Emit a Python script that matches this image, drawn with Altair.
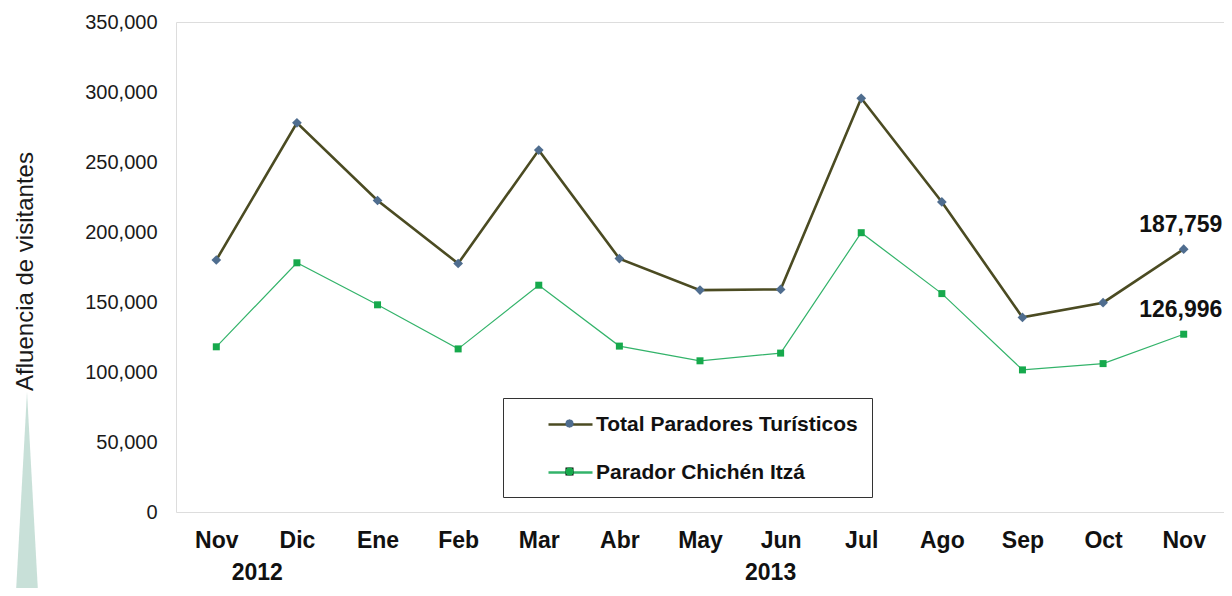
import altair as alt
import pandas as pd

months = ["Nov 2012", "Dic", "Ene", "Feb", "Mar", "Abr", "May", "Jun",
          "Jul", "Ago", "Sep", "Oct", "Nov 2013"]
total = [180000, 278000, 222500, 177500, 258500, 181000, 158500, 159000,
         295500, 221500, 139000, 149500, 187759]
chichen = [118000, 178000, 148000, 116500, 162000, 118500, 108000, 113500,
           199500, 156000, 101500, 106000, 126996]
series_names = ["Total Paradores Turísticos", "Parador Chichén Itzá"]
years = ["2012", "2013"]
year_anchor = ["Nov 2012", "Jun"]
y_ticks = [0, 50000, 100000, 150000, 200000, 250000, 300000, 350000]

rows = []
for m, t, c in zip(months, total, chichen):
    rows.append({"key": m, "value": t, "series": series_names[0], "series_b": series_names[0]})
    rows.append({"key": m, "value": c, "series": series_names[1], "series_b": series_names[1]})
df = pd.DataFrame(rows)

FONT = "Liberation Sans"
W, H = 1048, 490

x_enc = alt.X("key:N", sort=months,
              scale=alt.Scale(type="point", padding=0.5),
              axis=alt.Axis(title=None, labelExpr="slice(datum.value,0,3)", labelAngle=0,
                            labelFont=FONT, labelFontSize=23, labelFontWeight="bold",
                            labelColor="#111111", labelPadding=17, ticks=False,
                            domain=False, grid=False))
y_enc = alt.Y("value:Q",
              scale=alt.Scale(domain=[0, 350000], nice=False),
              axis=alt.Axis(title="Afluencia de visitantes", values=y_ticks, format=",.0f",
                            labelFont=FONT, labelFontSize=20, labelColor="#1a1a1a",
                            labelPadding=19, ticks=False, domain=False, grid=False,
                            titleFont=FONT, titleFontSize=24, titleFontWeight="normal",
                            titleColor="#1a1a1a", titleX=-151, titleY=249, titleAngle=270,
                            titleAlign="center", titleBaseline="middle"))

color_scale = alt.Scale(domain=series_names, range=["#4b4b22", "#33b36a"])
fill_scale = alt.Scale(range=["#4f6d8f", "#16a94c"])
shape_scale = alt.Scale(range=["diamond", "square"])

legend1 = alt.Legend(title=None, orient="none", legendX=327, legendY=376,
                     direction="vertical",
                     symbolType="M-2,0H2", symbolSize=484, symbolStrokeWidth=2.5,
                     padding=14, rowPadding=25, symbolOffset=41, labelOffset=13,
                     labelFont=FONT, labelFontSize=21, labelFontWeight="bold",
                     labelColor="#111111", labelLimit=500,
                     strokeColor="#333333", fillColor="white")
legend2 = alt.Legend(title=None, orient="none", legendX=327, legendY=376,
                     direction="vertical",
                     symbolSize=64, symbolStrokeWidth=0,
                     padding=21.5, rowPadding=40, symbolOffset=41,
                     labelFontSize=1, labelColor="rgba(0,0,0,0)")

base = alt.Chart(df)

line_total = base.transform_filter(alt.datum.series == series_names[0]).mark_line(
    strokeWidth=2.6).encode(x=x_enc, y=y_enc,
                            color=alt.Color("series:N", scale=color_scale, legend=legend1))
line_chichen = base.transform_filter(alt.datum.series == series_names[1]).mark_line(
    strokeWidth=1.2).encode(x=x_enc, y=y_enc,
                            color=alt.Color("series:N", scale=color_scale, legend=legend1))

fill_enc = alt.Fill("series_b:N", sort=series_names, scale=fill_scale, legend=legend2)
shape_enc = alt.Shape("series_b:N", sort=series_names, scale=shape_scale, legend=legend2)

pts_total = base.transform_filter(alt.datum.series == series_names[0]).mark_point(
    filled=True, size=95, opacity=1).encode(x=x_enc, y=y_enc, fill=fill_enc, shape=shape_enc)
pts_chichen = base.transform_filter(alt.datum.series == series_names[1]).mark_point(
    filled=True, size=49, opacity=1).encode(x=x_enc, y=y_enc, fill=fill_enc, shape=shape_enc)

last_labels = base.transform_filter(alt.datum.key == months[-1]).mark_text(
    font=FONT, fontSize=23, fontWeight="bold", color="#111111", dy=-24, dx=-3,
    baseline="middle", align="center").encode(
    x=x_enc, y=y_enc, text=alt.Text("value:Q", format=","))

year_df = pd.DataFrame({"year": years, "key": year_anchor})
year_2012 = alt.Chart(year_df).transform_filter(alt.datum.year == "2012").mark_text(
    font=FONT, fontSize=23, fontWeight="bold", color="#111111", dx=41,
    baseline="middle", align="center").encode(
    x=alt.X("key:N", sort=months, scale=alt.Scale(type="point", padding=0.5)),
    y=alt.value(551), text="year:N")
year_2013 = alt.Chart(year_df).transform_filter(alt.datum.year == "2013").mark_text(
    font=FONT, fontSize=23, fontWeight="bold", color="#111111", dx=-10,
    baseline="middle", align="center").encode(
    x=alt.X("key:N", sort=months, scale=alt.Scale(type="point", padding=0.5)),
    y=alt.value(551), text="year:N")

deco = alt.Chart(year_df.head(1)).mark_point(
    shape="M0,-1L0.11,1L-0.11,1Z", filled=True, size=40000,
    fill="#c2ddd4", opacity=0.9, strokeWidth=0).encode(
    x=alt.value(-149), y=alt.value(470))

chart = alt.layer(deco, line_total, line_chichen, pts_total, pts_chichen,
                  last_labels, year_2012, year_2013).properties(
    width=W, height=H,
    padding={"left": 168, "top": 14, "right": 0, "bottom": 76},
    autosize=alt.AutoSizeParams(type="none"),
).configure_view(stroke="#808080", strokeWidth=4).configure(background="white")

chart.save("out.html", embed_options={"renderer": "svg", "actions": False})
